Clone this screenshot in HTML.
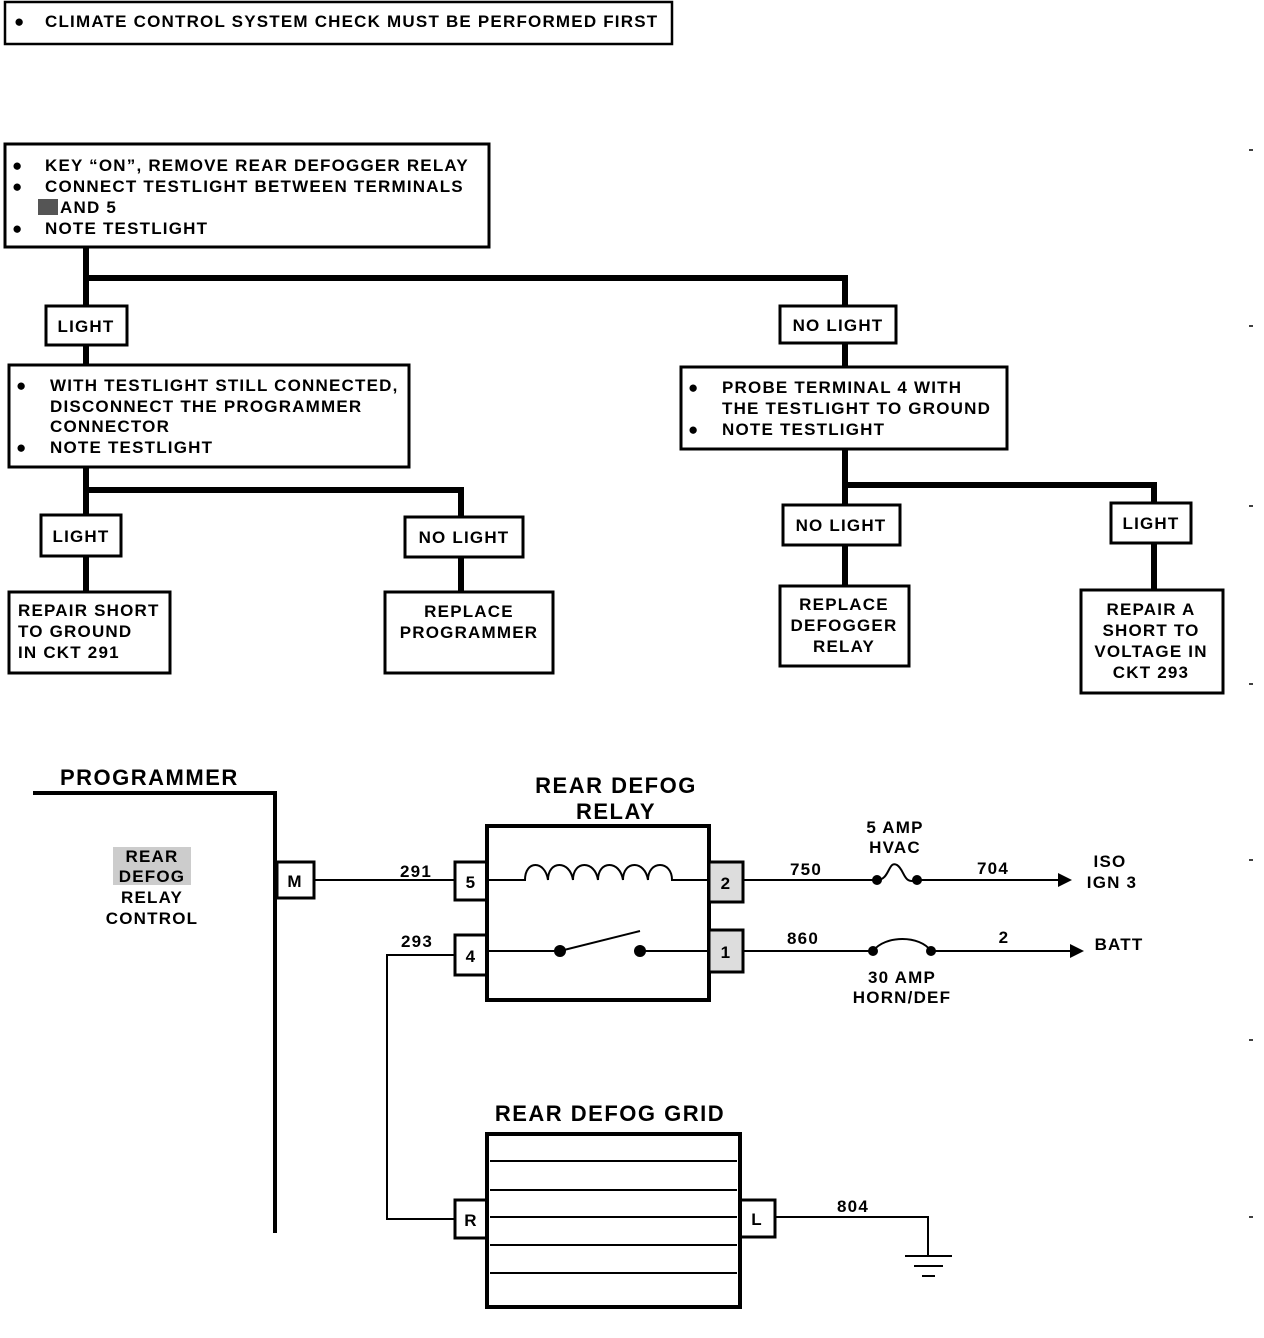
<!DOCTYPE html>
<html><head><style>body{margin:0;background:#fff}svg{display:block}</style></head><body>
<svg width="1264" height="1338" viewBox="0 0 1264 1338" xmlns="http://www.w3.org/2000/svg" font-family="Liberation Sans, sans-serif" font-weight="bold" font-size="17" letter-spacing="1.2">
<g fill="none" stroke="#000" stroke-width="3">
<rect x="5" y="2" width="667" height="42" stroke-width="2.5"/>
<rect x="5" y="144" width="484" height="103"/>
<rect x="46" y="306" width="81" height="39"/>
<rect x="780" y="306" width="116" height="37"/>
<rect x="9" y="365" width="400" height="102"/>
<rect x="681" y="367" width="326" height="82"/>
<rect x="41" y="515" width="80" height="41"/>
<rect x="405" y="517" width="118" height="40"/>
<rect x="9" y="592" width="161" height="81"/>
<rect x="385" y="592" width="168" height="81"/>
<rect x="783" y="505" width="117" height="40"/>
<rect x="1111" y="503" width="80" height="40"/>
<rect x="780" y="586" width="129" height="80"/>
<rect x="1081" y="590" width="142" height="103"/>
</g>
<g stroke="#000" stroke-width="6" fill="none">
<polyline points="86,247 86,306"/>
<polyline points="86,278 845,278 845,306"/>
<polyline points="86,345 86,365"/>
<polyline points="845,343 845,367"/>
<polyline points="86,467 86,515"/>
<polyline points="86,490 461,490 461,517"/>
<polyline points="86,556 86,592"/>
<polyline points="461,557 461,592"/>
<polyline points="845,449 845,505"/>
<polyline points="845,485 1154,485 1154,503"/>
<polyline points="845,545 845,586"/>
<polyline points="1154,543 1154,590"/>
</g>
<g stroke="#000" stroke-width="1.5">
<path d="M1249,150h4M1249,326h4M1249,506h4M1249,684h4M1249,860h4M1249,1040h4M1249,1217h4"/>
</g>
<g>
<text x="14" y="27" letter-spacing="0">●</text><text x="45" y="27">CLIMATE CONTROL SYSTEM CHECK MUST BE PERFORMED FIRST</text>
<text x="12" y="171" letter-spacing="0">●</text><text x="45" y="171">KEY “ON”, REMOVE REAR DEFOGGER RELAY</text>
<text x="12" y="192" letter-spacing="0">●</text><text x="45" y="192">CONNECT TESTLIGHT BETWEEN TERMINALS</text>
<rect x="38" y="199" width="20" height="16" fill="#555"/><text x="60" y="213">AND 5</text>
<text x="12" y="234" letter-spacing="0">●</text><text x="45" y="234">NOTE TESTLIGHT</text>
<text x="86" y="332" text-anchor="middle">LIGHT</text>
<text x="838" y="331" text-anchor="middle">NO LIGHT</text>
<text x="16" y="391" letter-spacing="0">●</text><text x="50" y="391">WITH TESTLIGHT STILL CONNECTED,</text>
<text x="50" y="412">DISCONNECT THE PROGRAMMER</text>
<text x="50" y="432">CONNECTOR</text>
<text x="16" y="453" letter-spacing="0">●</text><text x="50" y="453">NOTE TESTLIGHT</text>
<text x="688" y="393" letter-spacing="0">●</text><text x="722" y="393">PROBE TERMINAL 4 WITH</text>
<text x="722" y="414">THE TESTLIGHT TO GROUND</text>
<text x="688" y="435" letter-spacing="0">●</text><text x="722" y="435">NOTE TESTLIGHT</text>
<text x="81" y="542" text-anchor="middle">LIGHT</text>
<text x="464" y="543" text-anchor="middle">NO LIGHT</text>
<text x="841" y="531" text-anchor="middle">NO LIGHT</text>
<text x="1151" y="529" text-anchor="middle">LIGHT</text>
<text x="18" y="616">REPAIR SHORT</text><text x="18" y="637">TO GROUND</text><text x="18" y="658">IN CKT 291</text>
<text x="469" y="617" text-anchor="middle">REPLACE</text><text x="469" y="638" text-anchor="middle">PROGRAMMER</text>
<text x="844" y="610" text-anchor="middle">REPLACE</text><text x="844" y="631" text-anchor="middle">DEFOGGER</text><text x="844" y="652" text-anchor="middle">RELAY</text>
<text x="1151" y="615" text-anchor="middle">REPAIR A</text><text x="1151" y="636" text-anchor="middle">SHORT TO</text><text x="1151" y="657" text-anchor="middle">VOLTAGE IN</text><text x="1151" y="678" text-anchor="middle">CKT 293</text>
</g>
<g fill="none" stroke="#000">
<polyline points="33,793 275,793 275,1233" stroke-width="4"/>
<rect x="277" y="862" width="37" height="36" stroke-width="3"/>
<line x1="314" y1="880" x2="455" y2="880" stroke-width="2"/>
<rect x="487" y="826" width="222" height="174" stroke-width="4"/>
<rect x="455" y="862" width="32" height="38" stroke-width="3"/>
<rect x="455" y="935" width="32" height="40" stroke-width="3"/>
<rect x="709" y="862" width="34" height="40" stroke-width="3" fill="#ddd"/>
<rect x="709" y="930" width="34" height="42" stroke-width="3" fill="#ddd"/>
<path d="M487,880 H525 C525,860 545,860 548,880 C548,860 570,860 573,880 C573,860 595,860 598,880 C598,860 620,860 623,880 C623,860 645,860 648,880 C648,860 672,860 672,880 H709" stroke-width="2"/>
<path d="M487,951 H560 L640,931 M640,951 H709" stroke-width="2"/>
<path d="M743,880 H877 C890,880 888,860 897,865 C905,870 903,885 917,880 H1060" stroke-width="2"/>
<path d="M743,951 H873 C885,935 920,935 931,951 H1072" stroke-width="2"/>
<polyline points="455,955 387,955 387,1219 455,1219" stroke-width="2"/>
<rect x="487" y="1134" width="253" height="173" stroke-width="4"/>
<path d="M490,1161 H737 M490,1190 H737 M490,1217 H737 M490,1245 H737 M490,1273 H737" stroke-width="2"/>
<rect x="455" y="1200" width="32" height="38" stroke-width="3"/>
<rect x="740" y="1200" width="35" height="37" stroke-width="3"/>
<polyline points="775,1217 928,1217 928,1255" stroke-width="2"/>
<path d="M905,1256 H952 M914,1266 H943 M922,1276 H935" stroke-width="2"/>
</g>
<g fill="#000">
<circle cx="560" cy="951" r="6"/><circle cx="640" cy="951" r="6"/>
<circle cx="877" cy="880" r="5"/><circle cx="917" cy="880" r="5"/>
<circle cx="873" cy="951" r="5"/><circle cx="931" cy="951" r="5"/>
<polygon points="1058,873 1072,880 1058,887"/>
<polygon points="1070,944 1084,951 1070,958"/>
</g>
<g>
<text x="60" y="785" font-size="22" letter-spacing="1.5">PROGRAMMER</text>
<rect x="113" y="847" width="78" height="38" fill="#ccc"/>
<text x="152" y="862" text-anchor="middle">REAR</text>
<text x="152" y="882" text-anchor="middle">DEFOG</text>
<text x="152" y="903" text-anchor="middle">RELAY</text>
<text x="152" y="924" text-anchor="middle">CONTROL</text>
<text x="295" y="887" text-anchor="middle">M</text>
<text x="416" y="877" text-anchor="middle">291</text>
<text x="417" y="947" text-anchor="middle">293</text>
<text x="616" y="793" text-anchor="middle" font-size="22" letter-spacing="1.5">REAR DEFOG</text>
<text x="616" y="819" text-anchor="middle" font-size="22" letter-spacing="1.5">RELAY</text>
<text x="471" y="888" text-anchor="middle">5</text>
<text x="471" y="962" text-anchor="middle">4</text>
<text x="726" y="889" text-anchor="middle">2</text>
<text x="726" y="958" text-anchor="middle">1</text>
<text x="806" y="875" text-anchor="middle">750</text>
<text x="895" y="833" text-anchor="middle">5 AMP</text>
<text x="895" y="853" text-anchor="middle">HVAC</text>
<text x="993" y="874" text-anchor="middle">704</text>
<text x="1110" y="867" text-anchor="middle">ISO</text>
<text x="1112" y="888" text-anchor="middle">IGN 3</text>
<text x="803" y="944" text-anchor="middle">860</text>
<text x="1004" y="943" text-anchor="middle">2</text>
<text x="1119" y="950" text-anchor="middle">BATT</text>
<text x="902" y="983" text-anchor="middle">30 AMP</text>
<text x="902" y="1003" text-anchor="middle">HORN/DEF</text>
<text x="610" y="1121" text-anchor="middle" font-size="22" letter-spacing="1.5">REAR DEFOG GRID</text>
<text x="471" y="1226" text-anchor="middle">R</text>
<text x="757" y="1225" text-anchor="middle">L</text>
<text x="853" y="1212" text-anchor="middle">804</text>
</g>
</svg>
</body></html>
